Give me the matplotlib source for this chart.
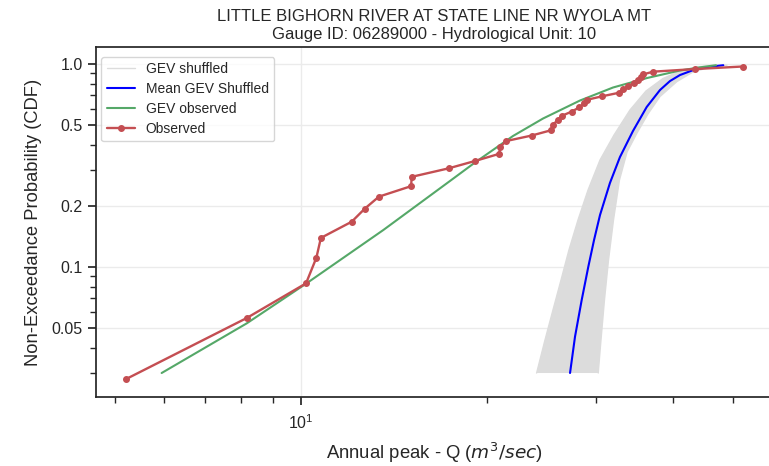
import numpy as np
import matplotlib
matplotlib.use("Agg")
import matplotlib.pyplot as plt
import seaborn as sns
from matplotlib.ticker import FixedLocator, FixedFormatter, LogLocator, NullFormatter

sns.set_theme(style="ticks", rc={"axes.grid": True})
plt.rcParams['font.family'] = ['Liberation Sans', 'DejaVu Sans']

# Observed annual peaks (m3/s) and their non-exceedance probabilities
obs_q = [5.21, 8.17, 10.19, 10.59, 10.77, 12.08, 12.69, 13.37, 15.07, 15.11,
         17.33, 19.14, 20.94, 20.99, 21.46, 23.61, 25.42, 25.53, 26.01, 26.45,
         27.42, 28.20, 28.73, 29.08, 30.75, 32.73, 33.22, 33.84, 34.61, 35.09,
         35.49, 35.79, 37.15, 43.33, 51.82]
obs_p = [0.028, 0.056, 0.083, 0.111, 0.139, 0.167, 0.194, 0.222, 0.250, 0.278,
         0.306, 0.333, 0.361, 0.389, 0.417, 0.444, 0.472, 0.500, 0.528, 0.556,
         0.583, 0.611, 0.639, 0.667, 0.694, 0.722, 0.750, 0.778, 0.806, 0.833,
         0.861, 0.889, 0.917, 0.944, 0.972]

# GEV fitted to observed
gev_q = [5.95, 8.17, 10.21, 13.59, 17.42, 19.12, 22.03, 24.64, 28.28, 31.98,
         36.30, 41.05, 44.22, 46.94]
gev_p = [0.030, 0.0527, 0.083, 0.152, 0.2651, 0.3269, 0.4417, 0.5387, 0.6608, 0.7659,
         0.853, 0.929, 0.963, 0.9865]

# Mean GEV of shuffled series
mean_q = [27.25, 27.76, 28.46, 29.17, 29.80, 30.47, 31.62, 32.82, 34.45, 36.26,
          38.10, 39.55, 41.05, 43.14, 45.90, 48.24]
mean_p = [0.030, 0.0453, 0.0687, 0.1002, 0.1357, 0.1802, 0.2593, 0.3479, 0.4675, 0.614,
          0.7444, 0.8245, 0.8826, 0.934, 0.970, 0.9865]

# Envelope of the shuffled GEV curves (left / right)
shuf_left_q = [24.06, 24.82, 25.57, 26.35, 27.14, 28.07, 29.14, 30.47, 32.10, 34.07,
               36.16, 38.52, 41.05, 44.22, 47.29]
shuf_left_p = [0.030, 0.0436, 0.0613, 0.0862, 0.1212, 0.1703, 0.2393, 0.3364, 0.4467, 0.5934,
               0.7360, 0.848, 0.924, 0.970, 0.9865]
shuf_right_q = [30.27, 30.58, 30.98, 31.45, 32.04, 32.76, 33.70, 34.97, 36.43, 38.10,
                40.55, 43.14, 46.47, 48.91]
shuf_right_p = [0.030, 0.0436, 0.0687, 0.1081, 0.1703, 0.2681, 0.3684, 0.4570, 0.5671, 0.6914,
                0.818, 0.916, 0.972, 0.9865]

yticks = [0.05, 0.1, 0.2, 0.5, 1.0]
yticklabels = ["0.05", "0.1", "0.2", "0.5", "1.0"]

fig = plt.figure(figsize=(7.69, 4.66), dpi=100)
ax = fig.add_axes([96 / 769, 1 - 397 / 466, 677 / 769, 350 / 466])

band_color = '#dcdcdc'
poly_q = np.concatenate([shuf_left_q, shuf_right_q[::-1]])
poly_p = np.concatenate([shuf_left_p, shuf_right_p[::-1]])
ax.fill(poly_q, poly_p, color=band_color, lw=0, zorder=2)
ax.plot(shuf_left_q, shuf_left_p, color=band_color, lw=1, zorder=2, label='GEV shuffled')
ax.plot(shuf_right_q, shuf_right_p, color=band_color, lw=1, zorder=2)
ax.plot(mean_q, mean_p, color='blue', lw=1.5, zorder=3, label='Mean GEV Shuffled')
ax.plot(gev_q, gev_p, color='#55A868', lw=1.5, zorder=4, label='GEV observed')
ax.plot(obs_q, obs_p, color='#C44E52', lw=1.7, marker='o', ms=4, zorder=5, label='Observed')

ax.set_xscale('log')
ax.set_yscale('log')
ax.set_xlim(4.659, 58.05)
ax.set_ylim(0.02285, 1.213)

ax.yaxis.set_major_locator(FixedLocator(yticks))
ax.yaxis.set_major_formatter(FixedFormatter(yticklabels))
ax.yaxis.set_minor_locator(LogLocator(base=10, subs=np.arange(2, 10) * 0.1 * 10 / 10, numticks=20))
ax.yaxis.set_minor_formatter(NullFormatter())
ax.xaxis.set_minor_formatter(NullFormatter())

ax.grid(True, which='major', color='#ebebeb', lw=1)
ax.tick_params(axis='both', which='major', labelsize=11.5, length=6, width=1.25, color='.15')
ax.tick_params(axis='x', which='major', pad=6)
ax.tick_params(axis='both', which='minor', length=4, width=1, color='.15')
for s in ax.spines.values():
    s.set_color('.15')
    s.set_linewidth(1.25)

ax.set_xlabel(r'Annual peak - Q ($m^3/sec$)', fontsize=13.3, labelpad=6)
ax.set_ylabel('Non-Exceedance Probability (CDF)', fontsize=13.2, labelpad=7)
ax.set_title('LITTLE BIGHORN RIVER AT STATE LINE NR WYOLA MT\nGauge ID: 06289000 - Hydrological Unit: 10',
             fontsize=12, pad=6)
ax.legend(loc='upper left', bbox_to_anchor=(0.008, 0.972), borderaxespad=0,
          fontsize=10, frameon=True, labelspacing=0.42)

fig.savefig('out.png', dpi=100)
